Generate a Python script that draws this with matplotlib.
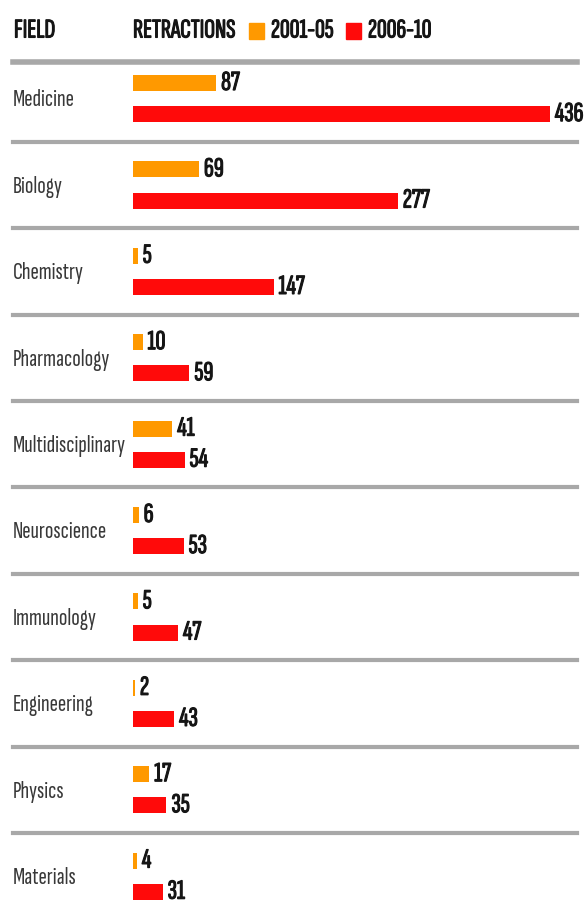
import matplotlib.pyplot as plt
import matplotlib.patches as patches
import matplotlib.patheffects as pe

# data
fields = ["Medicine", "Biology", "Chemistry", "Pharmacology", "Multidisciplinary",
          "Neuroscience", "Immunology", "Engineering", "Physics", "Materials"]
retractions_2001_05 = [87, 69, 5, 10, 41, 6, 5, 2, 17, 4]
retractions_2006_10 = [436, 277, 147, 59, 54, 53, 47, 43, 35, 31]
series_labels = ["2001-05", "2006-10"]

# style
W, H, DPI = 584, 917, 100
ORANGE = "#FF9900"
RED = "#FF0A0A"
GRID = "#A8A8A8"
INK = "#151515"
FONT = ["Sofia Sans Extra Condensed", "Roboto Condensed", "DejaVu Sans"]
bar_h = 0.185
offset = 0.18

plt.rcParams["font.family"] = FONT
# the condensed face has one weight only, so thicken it with a stroke
heavy = [pe.withStroke(linewidth=0.8, foreground=INK)]

fig = plt.figure(figsize=(W / DPI, H / DPI), dpi=DPI)
ax = fig.add_axes([0, 0, 1, 1])
# value 0 sits at x=133px, ~0.956 px per retraction; rows are 86.4px apart
ax.set_xlim(-133 / 0.956, (W - 133) / 0.956)
ax.set_ylim((H - 98.6) / 86.4, -98.6 / 86.4)
ax.axis("off")

rows = list(range(len(fields)))
ax.barh([r - offset for r in rows], retractions_2001_05, height=bar_h,
        left=0, color=ORANGE)
ax.barh([r + offset for r in rows], retractions_2006_10, height=bar_h,
        left=0, color=RED)

for r, name, a, b in zip(rows, fields, retractions_2001_05, retractions_2006_10):
    ax.text(13 / W, r + 0.02, name, transform=ax.get_yaxis_transform(),
            ha="left", va="center", fontsize=18, color="#383838")
    for v, y in ((a, r - offset), (b, r + offset)):
        ax.annotate(str(v), (v, y), xytext=(5, 0), textcoords="offset pixels",
                    ha="left", va="center", fontsize=20, color=INK,
                    path_effects=heavy)

# separators
for r in rows:
    ax.axhline(r + 0.5, xmin=13 / W, xmax=577 / W, color=GRID, lw=3)
ax.axhline(-0.42, xmin=13 / W, xmax=577 / W, color=GRID, lw=4)

# header
hy = 1 - 31 / H
fig.text(14 / W, hy, "FIELD", ha="left", va="center", fontsize=19.5,
         color=INK, path_effects=heavy)
fig.text(133 / W, hy, "RETRACTIONS", ha="left", va="center", fontsize=19.5,
         color=INK, path_effects=heavy)
for x0, col, lab in ((249, ORANGE, series_labels[0]), (346, RED, series_labels[1])):
    fig.patches.append(patches.Rectangle((x0 / W, hy - 8 / H), 15 / W, 16 / H,
                                         transform=fig.transFigure, color=col))
    fig.text((x0 + 22) / W, hy, lab, ha="left", va="center", fontsize=19.5,
             color=INK, path_effects=heavy)

fig.savefig("out.png", dpi=DPI, facecolor="white")
